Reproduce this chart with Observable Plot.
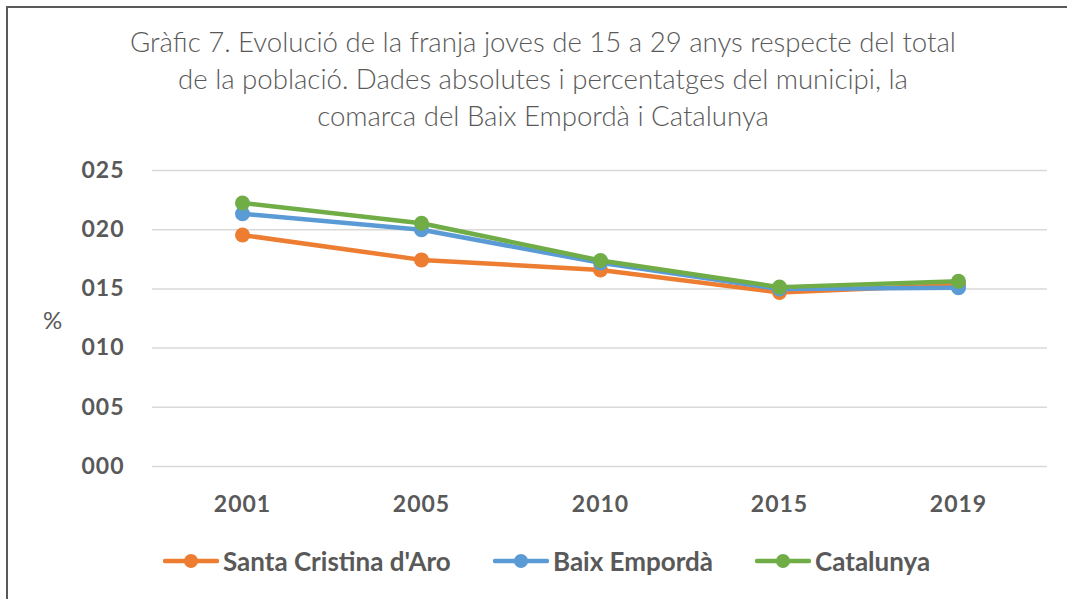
<!DOCTYPE html>
<html>
<head>
<meta charset="utf-8">
<script src="https://cdn.jsdelivr.net/npm/d3@7"></script>
<script src="https://cdn.jsdelivr.net/npm/@observablehq/plot@0.6"></script>
<style>
  html, body { margin: 0; padding: 0; background: #fff; }
  #page { position: relative; width: 1067px; height: 599px; overflow: hidden; background: #fff; font-family: Lato, "Open Sans", sans-serif; color: #595959; }
  #frame { position: absolute; left: 6px; top: 6px; width: 1070px; height: 600px; border-left: 2px solid #595959; border-top: 2px solid #595959; }
  #title { position: absolute; left: 0; width: 1086px; top: 23px; text-align: center; font-size: 27.6px; font-weight: 300; line-height: 37px; }
  #ylabel { position: absolute; left: 43px; top: 305px; font-size: 24px; }
  #chart { position: absolute; left: 0; top: 150px; }
  #legend { position: absolute; top: 545px; left: 0; width: 1067px; font-size: 26px; font-weight: bold; }
  .item { position: absolute; display: flex; align-items: center; height: 32px; }
  .item svg { margin-right: 4px; }
  #chart svg text { letter-spacing: 1px; }
</style>
</head>
<body>
<div id="page">
  <div id="frame"></div>
  <div id="title">Gràfic 7. Evolució de la franja joves de 15 a 29 anys respecte del total<br>de la població. Dades absolutes i percentatges del municipi, la<br>comarca del Baix Empordà i Catalunya</div>
  <div id="ylabel">%</div>
  <div id="chart"></div>
  <div id="legend"></div>
</div>
<script>
const years = ["2001", "2005", "2010", "2015", "2019"];
const seriesNames = ["Santa Cristina d'Aro", "Baix Empordà", "Catalunya"];
const santaCristina = [19.55, 17.45, 16.6, 14.7, 15.35];
const baixEmporda = [21.35, 20.0, 17.2, 15.0, 15.1];
const catalunya = [22.25, 20.55, 17.4, 15.15, 15.65];
const colors = ["#ED7D31", "#5B9BD5", "#70AD47"];
const yTicks = [0, 5, 10, 15, 20, 25];

const allValues = [santaCristina, baixEmporda, catalunya];
const rows = seriesNames.map((name, i) => years.map((yr, j) => ({series: name, year: yr, value: allValues[i][j]})));

const seriesMarks = rows.flatMap((data, i) => [
  Plot.line(data, {x: "year", y: "value", stroke: colors[i], strokeWidth: 4.5, strokeLinejoin: "round", strokeLinecap: "round"}),
  Plot.dot(data, {x: "year", y: "value", fill: colors[i], r: 7.5, stroke: "none"})
]);

const chart = Plot.plot({
  width: 1067,
  height: 380,
  marginLeft: 152,
  marginRight: 20,
  marginTop: 20,
  marginBottom: 64,
  style: {fontFamily: "Lato, 'Open Sans', sans-serif", color: "#595959", background: "transparent"},
  x: {type: "point", domain: years, padding: 0.5, label: null},
  y: {domain: [0, 25], label: null},
  marks: [
    Plot.gridY(yTicks, {stroke: "#d9d9d9", strokeOpacity: 1, strokeWidth: 1.5}),
    Plot.axisY(yTicks, {tickSize: 0, tickPadding: 28, tickFormat: d3.format("03d"), fontSize: 23, fontWeight: "bold", label: null}),
    Plot.axisX({tickSize: 0, tickPadding: 29, fontSize: 23, fontWeight: "bold", label: null}),
    ...seriesMarks
  ]
});
document.getElementById("chart").appendChild(chart);

const legendPos = [163, 493, 755];
const legend = document.getElementById("legend");
seriesNames.forEach((name, i) => {
  const item = document.createElement("div");
  item.className = "item";
  item.style.left = legendPos[i] + "px";
  item.innerHTML = `<svg width="56" height="16"><line x1="2" y1="8" x2="54" y2="8" stroke="${colors[i]}" stroke-width="4.5" stroke-linecap="round"/><circle cx="28" cy="8" r="7" fill="${colors[i]}"/></svg><span>${name}</span>`;
  legend.appendChild(item);
});
</script>
</body>
</html>
